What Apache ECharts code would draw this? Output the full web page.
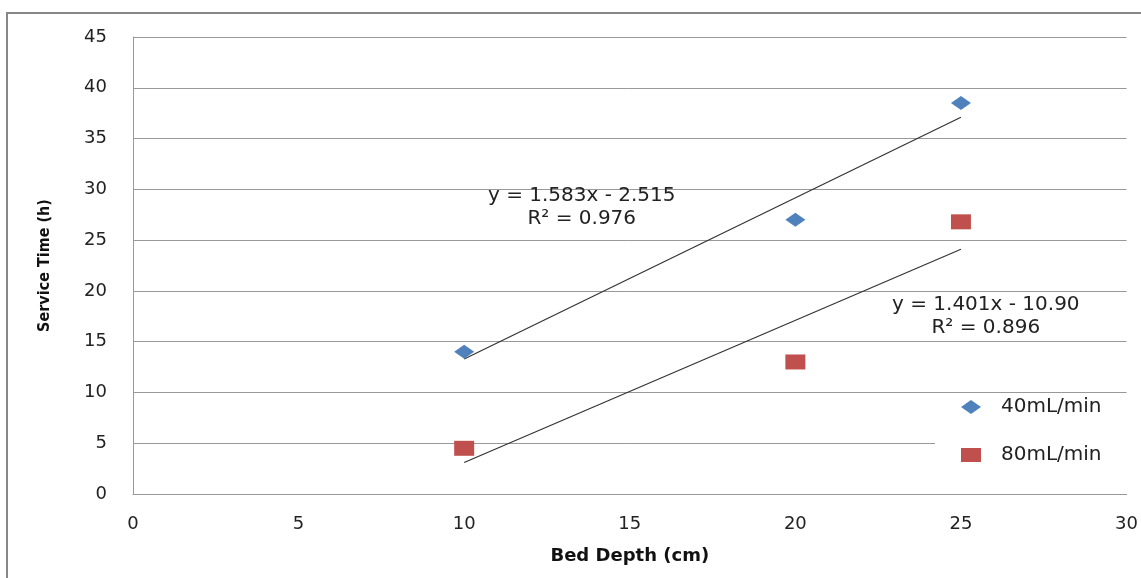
<!DOCTYPE html>
<html>
<head>
<meta charset="utf-8">
<script src="https://cdn.jsdelivr.net/npm/echarts@6/dist/echarts.min.js"></script>
<style>
html, body { margin: 0; padding: 0; background: #fff; }
#main { width: 1141px; height: 578px; }
</style>
</head>
<body>
<div id="main"></div>
<script>
// data
var depth40 = [10, 20, 25];
var time40 = [14, 27, 38.5];
var depth80 = [10, 20, 25];
var time80 = [4.5, 13, 26.8];
// trendline ends as drawn
var trend40 = [[10, 13.3], [25, 37.1]];
var trend80 = [[10, 3.1], [25, 24.1]];
var eq40 = ['y = 1.583x - 2.515', 'R² = 0.976'];
var eq80 = ['y = 1.401x - 10.90', 'R² = 0.896'];
var seriesNames = ['40mL/min', '80mL/min'];

function pairs(xs, ys) {
    var out = [];
    for (var i = 0; i < xs.length; i++) out.push([xs[i], ys[i]]);
    return out;
}

var font = 'DejaVu Sans';
var myChart = echarts.init(document.getElementById('main'));
var option = {
    animation: false,
    backgroundColor: '#fff',
    grid: { left: 133, right: 14, top: 37, bottom: 84 },
    legend: {
        orient: 'vertical',
        left: 935, top: 397,
        padding: [0, 60, 12, 26],
        itemGap: 28,
        itemWidth: 20, itemHeight: 14,
        backgroundColor: '#fff',
        textStyle: { fontFamily: font, fontSize: 20, color: '#222', padding: [0, 0, 0, 15] },
        data: [
            { name: seriesNames[0], icon: 'diamond' },
            { name: seriesNames[1], icon: 'rect' }
        ]
    },
    xAxis: {
        type: 'value', min: 0, max: 30, interval: 5,
        name: 'Bed Depth (cm)', nameLocation: 'middle', nameGap: 53,
        nameTextStyle: { fontFamily: font, fontWeight: 'bold', fontSize: 18, color: '#111' },
        axisLine: { lineStyle: { color: '#999', width: 1 } },
        axisTick: { show: false },
        splitLine: { show: false },
        axisLabel: { fontFamily: font, fontSize: 18, color: '#222', margin: 21 }
    },
    yAxis: {
        type: 'value', min: 0, max: 45, interval: 5,
        name: 'Service Time (h)', nameLocation: 'middle', nameGap: 80, nameRotate: 90,
        nameTextStyle: { fontFamily: 'DejaVu Sans Condensed', fontWeight: 'bold', fontSize: 16, color: '#111' },
        axisLine: { show: true, lineStyle: { color: '#999', width: 1 } },
        axisTick: { show: false },
        splitLine: { lineStyle: { color: '#999', width: 1 } },
        axisLabel: { fontFamily: font, fontSize: 18, color: '#222', margin: 26 }
    },
    series: [
        {
            name: 'trend40', type: 'line', data: trend40, symbol: 'none', z: 3,
            lineStyle: { color: '#333', width: 1.2 }, legendHoverLink: false
        },
        {
            name: 'trend80', type: 'line', data: trend80, symbol: 'none', z: 3,
            lineStyle: { color: '#333', width: 1.2 }, legendHoverLink: false
        },
        {
            name: seriesNames[0], type: 'scatter', data: pairs(depth40, time40), z: 4,
            symbol: 'diamond', symbolSize: [20, 14],
            itemStyle: { color: '#4F81BD', opacity: 1 }
        },
        {
            name: seriesNames[1], type: 'scatter', data: pairs(depth80, time80), z: 4,
            symbol: 'rect', symbolSize: [20, 15],
            itemStyle: { color: '#C0504D', opacity: 1 }
        }
    ]
};
myChart.setOption(option);

// equation labels placed in data coordinates
var p40 = myChart.convertToPixel({ gridIndex: 0 }, [13.55, 28.2]);
var p80 = myChart.convertToPixel({ gridIndex: 0 }, [25.75, 17.5]);
function eqText(p, lines) {
    return {
        type: 'text', x: p[0], y: p[1], z: 10,
        style: {
            text: lines.join('\n'), fontFamily: font, fontSize: 20, fill: '#222',
            align: 'center', verticalAlign: 'middle', lineHeight: 23
        }
    };
}
myChart.setOption({
    graphic: [
        {
            type: 'rect', shape: { x: 7, y: 13, width: 1200, height: 700 }, z: -1,
            style: { fill: 'none', stroke: '#888', lineWidth: 2 }
        },
        eqText(p40, eq40),
        eqText(p80, eq80)
    ]
});
</script>
</body>
</html>
